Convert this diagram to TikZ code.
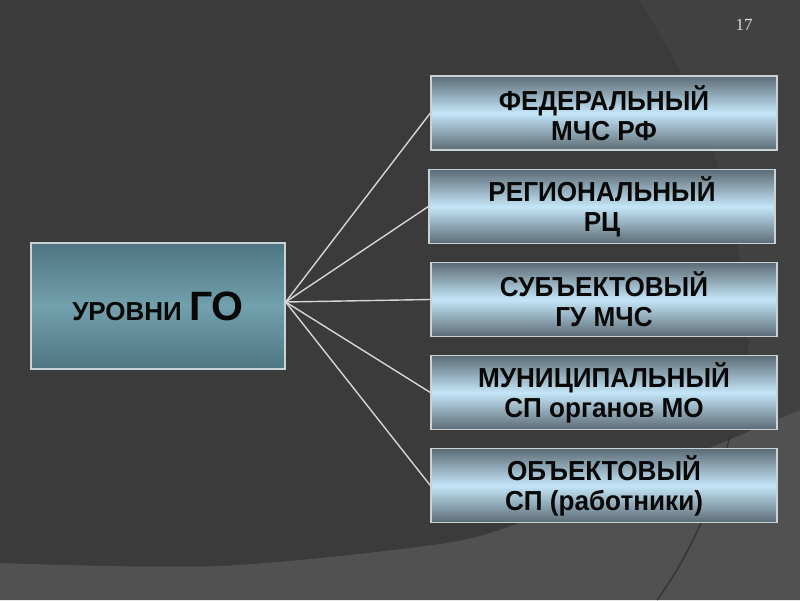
\documentclass[tikz,border=0pt]{standalone}
\usepackage{fontspec}
\setmainfont{Liberation Sans}
\newfontfamily\numfont{Liberation Serif}
\newfontfamily\boxfont[FakeStretch=0.95]{Liberation Sans}
\usetikzlibrary{calc}
\definecolor{bgbase}{HTML}{3B3B3B}
\definecolor{bgright}{HTML}{414141}
\definecolor{bgbottom}{HTML}{515151}
\definecolor{bgline}{HTML}{363636}
\definecolor{boxdark}{HTML}{5C6B75}
\definecolor{boxlight}{HTML}{C4E6F8}
\definecolor{goldark}{HTML}{4F7682}
\definecolor{golight}{HTML}{72A0AD}
\definecolor{frame}{HTML}{C9D2D6}
\definecolor{conn}{HTML}{D6D6D6}
\definecolor{txt}{HTML}{080808}
\tikzset{
  levelbox/.style={draw=frame, line width=1.3pt, shading=axis,
    top color=boxdark, bottom color=boxdark, middle color=boxlight,
    minimum width=346pt, minimum height=74pt, inner sep=0pt,
    align=center, text=txt, font=\boxfont\bfseries\fontsize{27.5}{30}\selectfont},
  rootbox/.style={draw=frame, line width=1.3pt, shading=axis,
    top color=goldark, bottom color=goldark, middle color=golight,
    minimum width=254pt, minimum height=126pt, inner sep=0pt,
    align=center, text=txt},
  connector/.style={draw=conn, line width=1.4pt}
}
\begin{document}
\begin{tikzpicture}[x=1pt,y=-1pt]
\useasboundingbox (0,0) rectangle (800,600);
% background
\fill[bgbase] (0,0) rectangle (800,600);
\fill[bgright] (638,0) .. controls (680,60) and (735,170) .. (745,300) -- (752,470) -- (800,470) -- (800,0) -- cycle;
\fill[bgbottom] plot[smooth] coordinates {(0,563) (220,566) (440,544) (520,523) (600,494) (700,452) (800,410)} -- (800,600) -- (0,600) -- cycle;
\draw[bgline, line width=1.5pt] (748,340) .. controls (735,430) and (715,520) .. (657,600);
% page number
\node[text=white!85!black, font=\numfont\fontsize{17}{20}\selectfont] (num) at (744,25) {17};
% boxes
\node[rootbox] (root) at (158,306) {\bfseries\fontsize{26}{30}\selectfont УРОВНИ \fontsize{41}{44}\selectfont ГО};
\node[levelbox] (b1) at (604,113) {ФЕДЕРАЛЬНЫЙ\\МЧС РФ};
\node[levelbox] (b2) at (602,206.5) {РЕГИОНАЛЬНЫЙ\\РЦ};
\node[levelbox] (b3) at (604,299.5) {СУБЪЕКТОВЫЙ\\ГУ МЧС};
\node[levelbox] (b4) at (604,392.5) {МУНИЦИПАЛЬНЫЙ\\СП органов МО};
\node[levelbox] (b5) at (604,485.5) {ОБЪЕКТОВЫЙ\\СП (работники)};
% connectors
\foreach \b in {b1,b2,b3,b4,b5}
  \draw[connector] ([yshift=4pt]root.east) -- (\b.west);
\end{tikzpicture}
\end{document}
